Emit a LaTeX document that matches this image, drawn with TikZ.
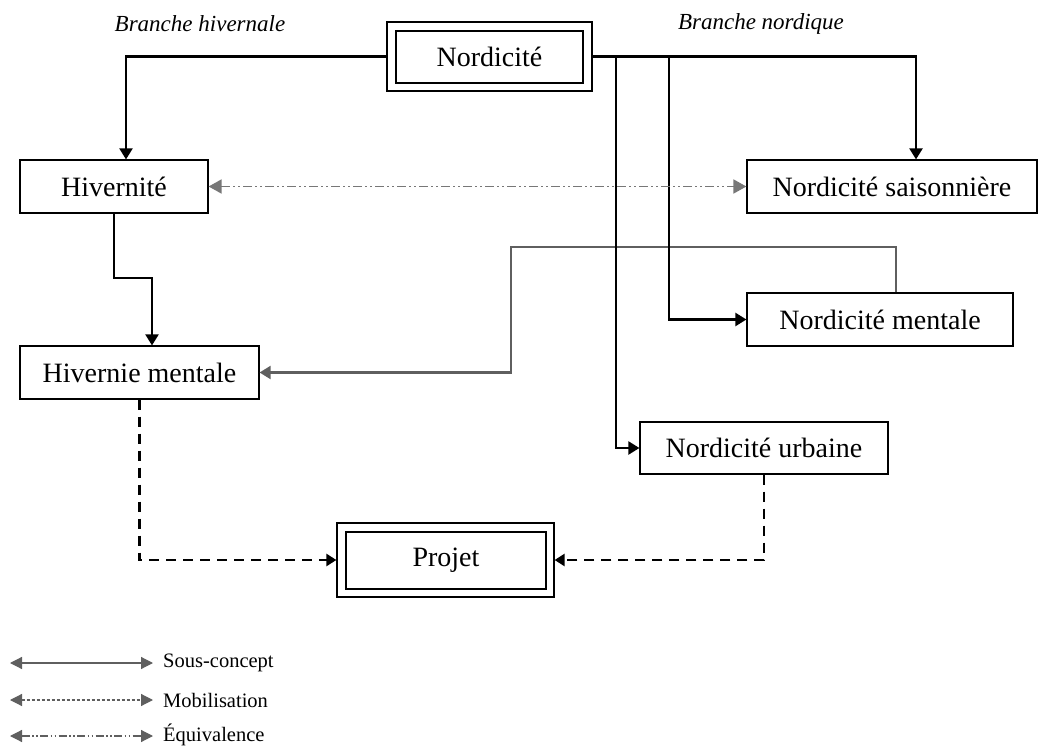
\documentclass[tikz,border=0pt]{standalone}
\usepackage{fontspec}
\setmainfont{Liberation Serif}
\usetikzlibrary{arrows.meta}
\definecolor{linkgray}{HTML}{5F5F5F}
\definecolor{eqgray}{HTML}{777777}
\begin{document}
\begin{tikzpicture}[x=1pt,y=-1pt,
  box/.style={draw, line width=1.2pt, inner sep=0pt, fill=white,
    font=\fontsize{28}{31}\selectfont},
  sub/.style={line width=2.2pt, -{Triangle[length=11pt,width=13pt]}},
  subgray/.style={sub, draw=linkgray, -{Triangle[length=11pt,width=13pt,fill=linkgray]}},
  mob/.style={line width=2.4pt, dash pattern=on 10pt off 7pt,
    -{Triangle[length=10pt,width=12pt]}},
  equiv/.style={draw=eqgray, line width=1.8pt,
    dash pattern=on 9pt off 3pt on 2pt off 3pt on 2pt off 3pt,
    {Triangle[length=13pt,width=14pt,fill=eqgray]}-{Triangle[length=13pt,width=14pt,fill=eqgray]}},
  legend/.style={draw=linkgray, line width=1.2pt,
    {Triangle[length=12pt,width=12pt,fill=linkgray]}-{Triangle[length=12pt,width=12pt,fill=linkgray]}},
  legtext/.style={anchor=west, inner sep=0pt, font=\fontsize{20.5}{24}\selectfont},
  branch/.style={font=\fontsize{23}{27}\selectfont\itshape, inner sep=0pt}
]
\useasboundingbox (0,0) rectangle (1042,746);

% branch headings
\node[branch] (bh) at (200,24) {Branche hivernale};
\node[branch] (bn) at (761,24) {Branche nordique};

% concept boxes
\node[box, minimum width=205pt, minimum height=69pt] (nord) at (489.5,56.5) {};
\node[box, minimum width=187pt, minimum height=52pt] (nordin) at (489.5,57) {Nordicité};
\node[box, minimum width=188pt, minimum height=53pt] (hiv) at (114,186.5) {Hivernité};
\node[box, minimum width=290pt, minimum height=53pt] (sais) at (892,186.5) {Nordicité saisonnière};
\node[box, minimum width=266pt, minimum height=53pt] (ment) at (880,319.5) {Nordicité mentale};
\node[box, minimum width=239pt, minimum height=53pt] (hm) at (139.5,372.5) {Hivernie mentale};
\node[box, minimum width=248pt, minimum height=52pt] (urb) at (764,448) {Nordicité urbaine};
\node[box, minimum width=217pt, minimum height=74pt] (proj) at (445.5,560) {};
\node[box, minimum width=200pt, minimum height=57pt] (projin) at (446,560.5) {Projet};

% branching points
\coordinate (b1) at (616,56.5);
\coordinate (b2) at (669,56.5);
\coordinate (g1) at (511,247);
\coordinate (k1) at (152,278);

% gray link from Nordicité mentale back to Hivernie mentale
\draw[subgray] ([xshift=16pt]ment.north) |- (g1) |- (hm.east);

% sub-concepts
\draw[sub] (nord.west) -| ([xshift=12pt]hiv.north);
\draw[sub] (nord.east) -| ([xshift=24pt]sais.north);
\draw[sub] (b1) |- (urb.west);
\draw[sub] (b2) |- (ment.west);
\draw[sub] (hiv.south) |- (k1) -- ([xshift=12.5pt]hm.north);

% mobilisation
\draw[mob] (hm.south) |- (proj.west);
\draw[mob] (urb.south) |- (proj.east);

% equivalence
\draw[equiv] (hiv.east) -- (sais.west);

% legend
\coordinate (l1a) at (10,663);  \coordinate (l1b) at (153,663);
\coordinate (l2a) at (10,700);  \coordinate (l2b) at (153,700);
\coordinate (l3a) at (10,736);  \coordinate (l3b) at (153,736);
\draw[legend] (l1a) -- (l1b);
\draw[legend, dash pattern=on 3pt off 2pt] (l2a) -- (l2b);
\draw[legend, dash pattern=on 8pt off 2.5pt on 1.5pt off 2.5pt on 1.5pt off 2.5pt] (l3a) -- (l3b);
\node[legtext] (t1) at (163,663) {Sous-concept};
\node[legtext] (t2) at (163,700) {Mobilisation};
\node[legtext] (t3) at (163,735) {Équivalence};
\end{tikzpicture}
\end{document}
